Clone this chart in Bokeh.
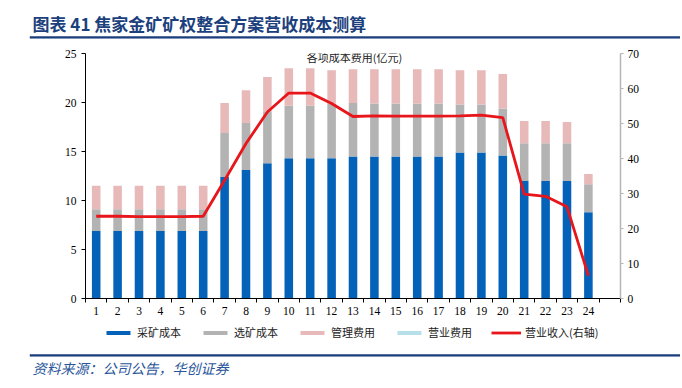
from bokeh.plotting import figure
from bokeh.models import (ColumnDataSource, Range1d, LinearAxis, FixedTicker, Legend,
                          LegendItem, Label)
from bokeh.layouts import column, row
from bokeh.core.properties import value
from bokeh.embed import file_html
from bokeh.resources import INLINE

periods = [str(i) for i in range(1, 25)]
mining = [6.9, 6.9, 6.9, 6.9, 6.9, 6.9, 12.4, 13.1, 13.8, 14.3, 14.3, 14.3, 14.5, 14.5,
          14.5, 14.5, 14.5, 14.9, 14.9, 14.6, 12.0, 12.0, 12.0, 8.8]
processing = [2.2, 2.2, 2.2, 2.2, 2.2, 2.2, 4.5, 4.8, 5.3, 5.4, 5.4, 5.6, 5.45, 5.4,
              5.4, 5.4, 5.4, 4.9, 4.9, 4.8, 3.85, 3.85, 3.85, 2.85]
admin = [2.4, 2.4, 2.4, 2.4, 2.4, 2.4, 3.05, 3.35, 3.5, 3.8, 3.8, 3.4, 3.45, 3.5,
         3.5, 3.5, 3.5, 3.5, 3.5, 3.5, 2.25, 2.25, 2.15, 1.05]
selling = [0.0] * 24
revenue = [23.5, 23.5, 23.4, 23.4, 23.4, 23.5, 33.8, 44.3, 53.3, 58.7, 58.7, 55.7, 52.0, 52.2,
           52.1, 52.1, 52.1, 52.2, 52.4, 51.7, 29.8, 29.2, 26.2, 6.5]
left_ticks = [0, 5, 10, 15, 20, 25]
right_ticks = [0, 10, 20, 30, 40, 50, 60, 70]
series_names = ["采矿成本", "选矿成本", "管理费用", "营业费用", "营业收入(右轴)"]
title_text = "图表 41  焦家金矿矿权整合方案营收成本测算"
inner_title = "各项成本费用(亿元)"
source_text = "资料来源：公司公告，华创证券"

SERIF = "Liberation Serif"
CJK = "Noto Sans CJK SC"
NAVY = "#1c3f7d"
colors = ["#0562b9", "#b3b3b3", "#e8b9b9", "#b7dfea"]
RED = "#e8151b"
W = 680


def blank(height, top):
    fig = figure(width=W, height=height, output_backend="svg", toolbar_location=None,
                 title=None, x_range=Range1d(0, W), y_range=Range1d(top + height, top),
                 x_axis_type=None, y_axis_type=None, min_border=0, min_border_left=0,
                 min_border_right=0, min_border_top=0, min_border_bottom=0)
    fig.outline_line_color = None
    fig.grid.visible = False
    return fig


xs = list(range(1, 25))
src = ColumnDataSource(dict(x=xs, mining=mining, processing=processing, admin=admin,
                            selling=selling, revenue=revenue))

# ---------- header ----------
h = blank(45, 0)
h.text(x=[32], y=[22.5], text=[title_text], text_font=value(CJK), text_font_size="17px",
       text_font_style="bold", text_color=NAVY, text_align="left", text_baseline="middle")
h.quad(left=[29.5], right=[W], top=[36], bottom=[37.8], fill_color=NAVY, line_color=NAVY,
       line_width=0.5)

# ---------- main chart ----------
p = figure(width=W, height=280, output_backend="svg", toolbar_location=None, title=None,
           x_range=Range1d(0.5, 25.5), y_range=Range1d(0, 25),
           min_border_left=85, min_border_right=W - 620, min_border_top=8, min_border_bottom=27)
p.outline_line_color = None
p.xgrid.grid_line_color = None
p.ygrid.grid_line_color = None

bars = p.vbar_stack(["mining", "processing", "admin", "selling"], x="x", width=0.4,
                    color=colors, source=src, line_color=None)
p.extra_y_ranges = {"rev": Range1d(0, 70)}
line = p.line("x", "revenue", source=src, y_range_name="rev", line_color=RED,
              line_width=2.8)

xa = p.xaxis[0]
xa.ticker = FixedTicker(ticks=xs, minor_ticks=[i + 0.5 for i in range(0, 26)])
xa.major_label_overrides = {i: periods[i - 1] for i in xs}
xa.major_tick_line_color = None
xa.major_tick_out = 4
xa.minor_tick_in = 0
xa.minor_tick_out = 4
xa.minor_tick_line_color = "black"
xa.axis_line_color = "black"
xa.major_label_standoff = 4
xa.major_label_text_font = SERIF
xa.major_label_text_font_size = "11.5px"
xa.major_label_text_color = "black"

ya = p.yaxis[0]
ya.ticker = FixedTicker(ticks=left_ticks)
ya.minor_tick_line_color = None
ya.major_tick_in = 0
ya.major_tick_out = 4
ya.axis_line_color = "black"
ya.major_tick_line_color = "black"
ya.major_label_standoff = 5
ya.major_label_text_font = SERIF
ya.major_label_text_font_size = "11.5px"
ya.major_label_text_color = "black"

ra = LinearAxis(y_range_name="rev", ticker=FixedTicker(ticks=right_ticks))
ra.minor_tick_line_color = None
ra.major_tick_in = 0
ra.major_tick_out = 3
ra.axis_line_color = "#b5b5b5"
ra.axis_line_width = 1.5
ra.major_tick_line_color = "#b5b5b5"
ra.major_label_standoff = 4
ra.major_label_text_font = SERIF
ra.major_label_text_font_size = "11.5px"
ra.major_label_text_color = "black"
p.add_layout(ra, "right")

p.add_layout(Label(x=269, y=242, x_units="screen", y_units="screen", text=inner_title,
                   text_font=CJK, text_font_size="11px", text_color="#222222",
                   text_align="center", text_baseline="middle"))

# ---------- footer ----------
f = blank(61, 325)
dummy = []
for c in colors:
    dummy.append(f.vbar(x=[0], top=[0], bottom=[0], width=0, fill_color=c, line_color=None))
dummy.append(f.line(x=[0], y=[0], line_color=RED, line_width=2.8))
legend = Legend(items=[LegendItem(label=n, renderers=[r]) for n, r in zip(series_names, dummy)],
                location=(103, 61 - 15), orientation="horizontal")
legend.glyph_width = 30
legend.glyph_height = 5
legend.label_height = 14
legend.label_standoff = 4
legend.spacing = 19
legend.padding = 0
legend.margin = 0
legend.border_line_color = None
legend.background_fill_alpha = 0
legend.label_text_font = CJK
legend.label_text_font_size = "11px"
legend.label_text_color = "#222222"
f.add_layout(legend, "center")
f.quad(left=[29.5], right=[W], top=[354], bottom=[355.8], fill_color=NAVY, line_color=NAVY,
       line_width=0.5)
f.text(x=[32], y=[367], text=[source_text], text_font=value(CJK), text_font_size="14px",
       text_font_style="italic", text_color="#2a559a", text_align="left", text_baseline="middle")

layout = column(row(h), p, row(f), spacing=0)
open("out.html", "w").write(file_html(layout, INLINE))
